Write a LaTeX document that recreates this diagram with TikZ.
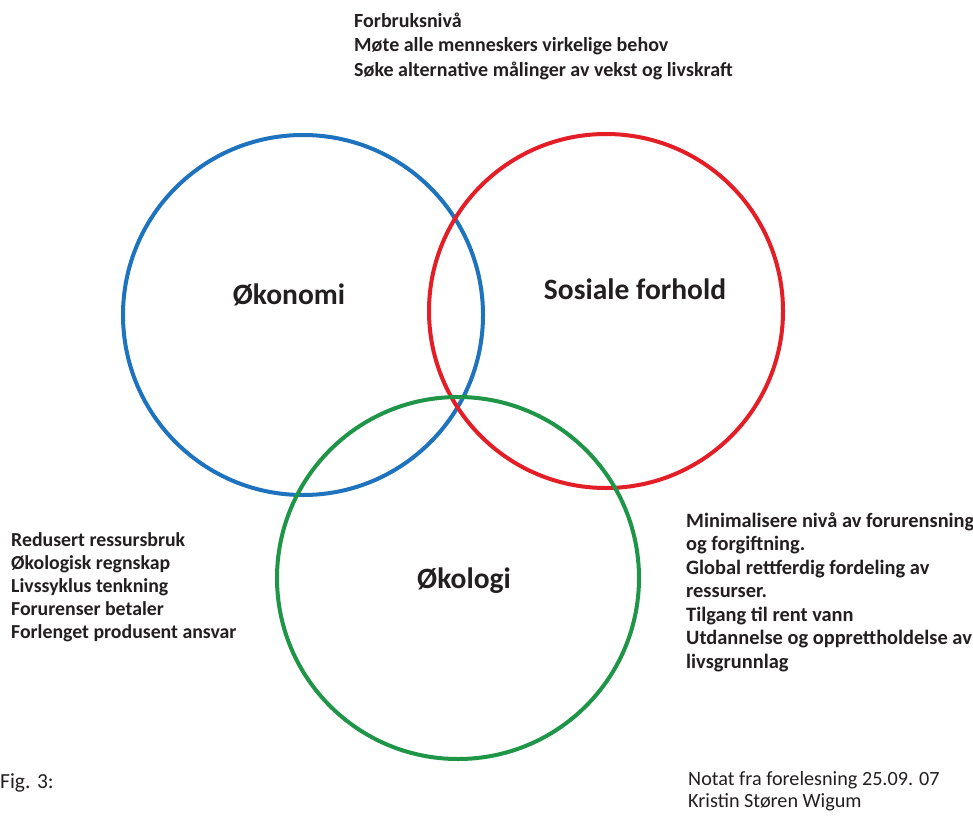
\documentclass[tikz,border=0pt]{standalone}
\usepackage{fontspec}
\setmainfont{Carlito}
\definecolor{cblue}{HTML}{1E73BE}
\definecolor{cred}{HTML}{E41E26}
\definecolor{cgreen}{HTML}{1F9548}
\definecolor{ink}{HTML}{231F20}
\begin{document}
\begin{tikzpicture}[x=1pt,y=-1pt,
  ring/.style={line width=4pt},
  lbl/.style={font=\bfseries\fontsize{29.5}{34}\selectfont, text=ink, inner sep=0pt},
  list/.style={text=ink, align=left, inner sep=0pt, anchor=base west},
  note/.style={font=\fontsize{20.2}{22}\selectfont, text=ink, align=left, inner sep=0pt, anchor=base west}]
\fill[white] (0,0) rectangle (973,816);
\useasboundingbox (0,0) rectangle (973,816);
\draw[ring, cblue] (303,315) circle (180);
\draw[ring, cred] (606,311) circle (177);
\draw[ring, cgreen] (458,578) circle (181);
\node[lbl] (oko) at (289,295) {Økonomi};
\node[lbl] (sos) at (635,289) {Sosiale forhold};
\node[lbl] (eko) at (464,581) {Økologi};
\node[list, font=\bfseries\fontsize{20}{24.5}\selectfont] (top) at (354,76) {Forbruksnivå\\Møte alle menneskers virkelige behov\\Søke alternative målinger av vekst og livskraft};
\node[list, font=\bfseries\fontsize{19.8}{23}\selectfont] (left) at (11,638) {Redusert ressursbruk\\Økologisk regnskap\\Livssyklus tenkning\\Forurenser betaler\\Forlenget produsent ansvar};
\node[list, font=\bfseries\fontsize{20.4}{23.5}\selectfont] (right) at (686,668) {Minimalisere nivå av forurensning\\og forgiftning.\\Global rettferdig fordeling av\\ressurser.\\Tilgang til rent vann\\Utdannelse og opprettholdelse av\\livsgrunnlag};
\node[note, font=\fontsize{21.5}{22}\selectfont] (fig) at (0,788) {Fig. 3:};
\node[note] (notat) at (688,807) {Notat fra forelesning 25.09. 07\\Kristin Støren Wigum};
\end{tikzpicture}
\end{document}
